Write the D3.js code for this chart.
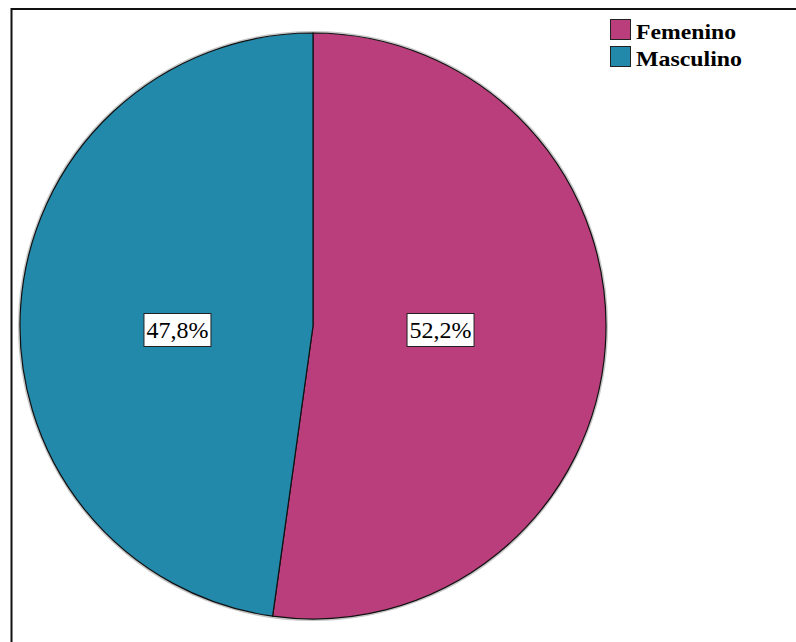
<!DOCTYPE html>
<html>
<head>
<meta charset="utf-8">
<script src="https://cdn.jsdelivr.net/npm/d3@7"></script>
<style>
  html, body { margin: 0; padding: 0; background: #fff; }
  svg { display: block; }
</style>
</head>
<body>
<svg id="chart" width="796" height="642"></svg>
<script>
// Distribución por sexo
const categories = ["Femenino", "Masculino"];
const values = [52.2, 47.8];
const sliceColors = ["#BA3E7C", "#2389AB"];
const valueLabels = ["52,2%", "47,8%"];

const W = 796, H = 642;
const cx = 313, cy = 326, R = 293;

const svg = d3.select("#chart");

// frame (top and left edges of the chart area)
svg.append("path")
  .attr("d", `M11.5,${H} V9 H${W}`)
  .attr("fill", "none")
  .attr("stroke", "#111")
  .attr("stroke-width", 2);

const color = d3.scaleOrdinal().domain(categories).range(sliceColors);

const pie = d3.pie().sort(null).value(d => d.value);
const data = categories.map((c, i) => ({ cat: c, value: values[i], label: valueLabels[i] }));
const arcs = pie(data);

const arc = d3.arc().innerRadius(0).outerRadius(R);
const labelArc = d3.arc().innerRadius(0).outerRadius(R * 0.9);

const g = svg.append("g").attr("transform", `translate(${cx},${cy})`);

// soft edge shadow
g.append("circle")
  .attr("r", R + 0.8)
  .attr("fill", "none")
  .attr("stroke", "rgba(0,0,0,0.22)")
  .attr("stroke-width", 2.5);

g.selectAll("path.slice")
  .data(arcs)
  .join("path")
  .attr("class", "slice")
  .attr("d", arc)
  .attr("fill", d => color(d.data.cat))
  .attr("stroke", "#111")
  .attr("stroke-width", 1.2);

// value labels in boxes
const lab = g.selectAll("g.lab")
  .data(arcs)
  .join("g")
  .attr("class", "lab")
  .attr("transform", d => `translate(${labelArc.centroid(d)[0] - 4},4)`);

lab.append("rect")
  .attr("x", -33.5)
  .attr("y", -16.5)
  .attr("width", 67)
  .attr("height", 33)
  .attr("fill", "#fff")
  .attr("stroke", "#222")
  .attr("stroke-width", 1);

lab.append("text")
  .attr("text-anchor", "middle")
  .attr("y", 8)
  .attr("font-family", "'Liberation Serif', 'Times New Roman', serif")
  .attr("font-size", 23)
  .attr("fill", "#000")
  .attr("textLength", 62)
  .attr("lengthAdjust", "spacingAndGlyphs")
  .text(d => d.data.label);

// legend
const legend = svg.append("g").attr("transform", "translate(610,19)");
const legendWidths = [100, 106];
const rows = legend.selectAll("g")
  .data(categories)
  .join("g")
  .attr("transform", (d, i) => `translate(0,${i * 27})`);

rows.append("rect")
  .attr("x", 0.5).attr("y", 0.5)
  .attr("width", 20).attr("height", 20)
  .attr("fill", d => color(d))
  .attr("stroke", "#222")
  .attr("stroke-width", 1);

rows.append("text")
  .attr("x", 26)
  .attr("y", 20)
  .attr("font-family", "'Liberation Serif', 'Times New Roman', serif")
  .attr("font-weight", "bold")
  .attr("font-size", 21)
  .attr("fill", "#000")
  .attr("textLength", (d, i) => legendWidths[i])
  .attr("lengthAdjust", "spacingAndGlyphs")
  .text(d => d);
</script>
</body>
</html>
